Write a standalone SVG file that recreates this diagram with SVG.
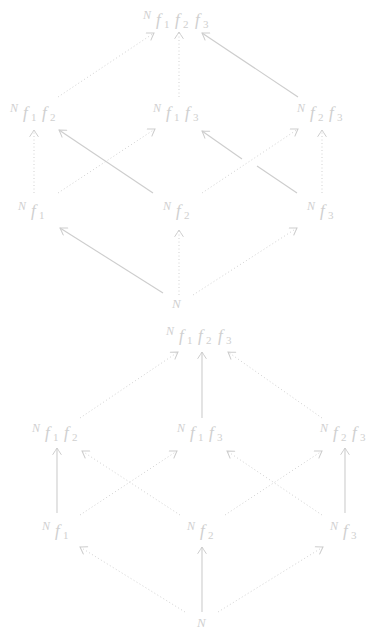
<svg xmlns="http://www.w3.org/2000/svg" width="371" height="629" viewBox="0 0 371 629">
  <style>
    .lbl { font-family: "Liberation Serif", "DejaVu Serif", serif; font-style: italic; fill: #d0d0d0; }
    .n { font-size: 12px; }
    .nb { font-size: 13px; }
    .f { font-size: 17px; }
    .d { font-size: 11px; font-style: normal; }
    .solid { stroke: #cdcdcd; stroke-width: 1.1; fill: none; marker-end: url(#tip); }
    .dot { stroke: #cdcdcd; stroke-width: 1; fill: none; stroke-dasharray: 0.9 2.6; marker-end: url(#tip); }
  </style>
  <defs>
    <marker id="tip" markerUnits="userSpaceOnUse" viewBox="-8 -5 10 10" refX="0" refY="0" markerWidth="10" markerHeight="10" orient="auto">
      <path d="M -6.5 -4.2 Q -2 -1.2 0 0 Q -2 1.2 -6.5 4.2" fill="none" stroke="#cdcdcd" stroke-width="1" stroke-linecap="round"/>
    </marker>
  </defs>
  <rect width="371" height="629" fill="#ffffff"/>

  <!-- upper lattice -->
  <g id="u-f1f2f3"><text class="lbl"><tspan class="n" x="143" y="19">N</tspan><tspan class="f" x="156" y="25">f</tspan><tspan class="d" x="164" y="28">1</tspan><tspan class="f" x="175" y="25">f</tspan><tspan class="d" x="183" y="28">2</tspan><tspan class="f" x="195" y="25">f</tspan><tspan class="d" x="203" y="28">3</tspan></text></g>
  <g id="u-f1f2"><text class="lbl"><tspan class="n" x="10" y="112">N</tspan><tspan class="f" x="23" y="118">f</tspan><tspan class="d" x="31" y="121">1</tspan><tspan class="f" x="42" y="118">f</tspan><tspan class="d" x="50" y="121">2</tspan></text></g>
  <g id="u-f1f3"><text class="lbl"><tspan class="n" x="153" y="112">N</tspan><tspan class="f" x="166" y="118">f</tspan><tspan class="d" x="174" y="121">1</tspan><tspan class="f" x="185" y="118">f</tspan><tspan class="d" x="193" y="121">3</tspan></text></g>
  <g id="u-f2f3"><text class="lbl"><tspan class="n" x="297" y="112">N</tspan><tspan class="f" x="310" y="118">f</tspan><tspan class="d" x="318" y="121">2</tspan><tspan class="f" x="329" y="118">f</tspan><tspan class="d" x="337" y="121">3</tspan></text></g>
  <g id="u-f1"><text class="lbl"><tspan class="n" x="18" y="210">N</tspan><tspan class="f" x="31" y="216">f</tspan><tspan class="d" x="39" y="219">1</tspan></text></g>
  <g id="u-f2"><text class="lbl"><tspan class="n" x="163" y="210">N</tspan><tspan class="f" x="176" y="216">f</tspan><tspan class="d" x="184" y="219">2</tspan></text></g>
  <g id="u-f3"><text class="lbl"><tspan class="n" x="307" y="210">N</tspan><tspan class="f" x="320" y="216">f</tspan><tspan class="d" x="328" y="219">3</tspan></text></g>
  <g id="u-n"><text class="lbl"><tspan class="nb" x="172" y="308">N</tspan></text></g>

  <!-- lower lattice -->
  <g id="l-f1f2f3"><text class="lbl"><tspan class="n" x="166" y="335">N</tspan><tspan class="f" x="179" y="341">f</tspan><tspan class="d" x="187" y="344">1</tspan><tspan class="f" x="198" y="341">f</tspan><tspan class="d" x="206" y="344">2</tspan><tspan class="f" x="218" y="341">f</tspan><tspan class="d" x="226" y="344">3</tspan></text></g>
  <g id="l-f1f2"><text class="lbl"><tspan class="n" x="32" y="432">N</tspan><tspan class="f" x="45" y="438">f</tspan><tspan class="d" x="53" y="441">1</tspan><tspan class="f" x="64" y="438">f</tspan><tspan class="d" x="72" y="441">2</tspan></text></g>
  <g id="l-f1f3"><text class="lbl"><tspan class="n" x="177" y="432">N</tspan><tspan class="f" x="190" y="438">f</tspan><tspan class="d" x="198" y="441">1</tspan><tspan class="f" x="209" y="438">f</tspan><tspan class="d" x="217" y="441">3</tspan></text></g>
  <g id="l-f2f3"><text class="lbl"><tspan class="n" x="320" y="432">N</tspan><tspan class="f" x="333" y="438">f</tspan><tspan class="d" x="341" y="441">2</tspan><tspan class="f" x="352" y="438">f</tspan><tspan class="d" x="360" y="441">3</tspan></text></g>
  <g id="l-f1"><text class="lbl"><tspan class="n" x="42" y="530">N</tspan><tspan class="f" x="55" y="536">f</tspan><tspan class="d" x="63" y="539">1</tspan></text></g>
  <g id="l-f2"><text class="lbl"><tspan class="n" x="187" y="530">N</tspan><tspan class="f" x="200" y="536">f</tspan><tspan class="d" x="208" y="539">2</tspan></text></g>
  <g id="l-f3"><text class="lbl"><tspan class="n" x="330" y="530">N</tspan><tspan class="f" x="343" y="536">f</tspan><tspan class="d" x="351" y="539">3</tspan></text></g>
  <g id="l-n"><text class="lbl"><tspan class="nb" x="197" y="627">N</tspan></text></g>

  <g id="connectors">
    <!-- upper: pairs to triple -->
    <line class="dot" x1="58" y1="97" x2="154" y2="33"/>
    <line class="dot" x1="179" y1="97" x2="179" y2="32"/>
    <line class="solid" x1="298" y1="97" x2="202" y2="33"/>
    <!-- upper: singles to pairs -->
    <line class="dot" x1="34" y1="193" x2="34" y2="130"/>
    <line class="solid" x1="153" y1="193" x2="59" y2="130"/>
    <line class="dot" x1="58" y1="193" x2="155" y2="129"/>
    <line class="solid" x1="242" y1="159" x2="202" y2="131"/>
    <line stroke="#cdcdcd" stroke-width="1.1" x1="297" y1="193" x2="257" y2="166"/>
    <line class="dot" x1="202" y1="193" x2="298" y2="129"/>
    <line class="dot" x1="322" y1="193" x2="322" y2="130"/>
    <!-- upper: N to singles -->
    <line class="solid" x1="163" y1="293" x2="60" y2="228"/>
    <line class="dot" x1="179" y1="295" x2="179" y2="230"/>
    <line class="dot" x1="193" y1="295" x2="297" y2="228"/>

    <!-- lower: pairs to triple -->
    <line class="dot" x1="80" y1="418" x2="178" y2="352"/>
    <line class="solid" x1="202" y1="418" x2="202" y2="352"/>
    <line class="dot" x1="322" y1="418" x2="228" y2="352"/>
    <!-- lower: singles to pairs -->
    <line class="solid" x1="57" y1="513" x2="57" y2="448"/>
    <line class="dot" x1="180" y1="515" x2="82" y2="451"/>
    <line class="dot" x1="80" y1="515" x2="177" y2="451"/>
    <line class="dot" x1="322" y1="515" x2="227" y2="451"/>
    <line class="dot" x1="225" y1="515" x2="322" y2="451"/>
    <line class="solid" x1="345" y1="513" x2="345" y2="448"/>
    <!-- lower: N to singles -->
    <line class="dot" x1="185" y1="612" x2="80" y2="547"/>
    <line class="solid" x1="202" y1="612" x2="202" y2="547"/>
    <line class="dot" x1="218" y1="612" x2="323" y2="547"/>
  </g>
</svg>
